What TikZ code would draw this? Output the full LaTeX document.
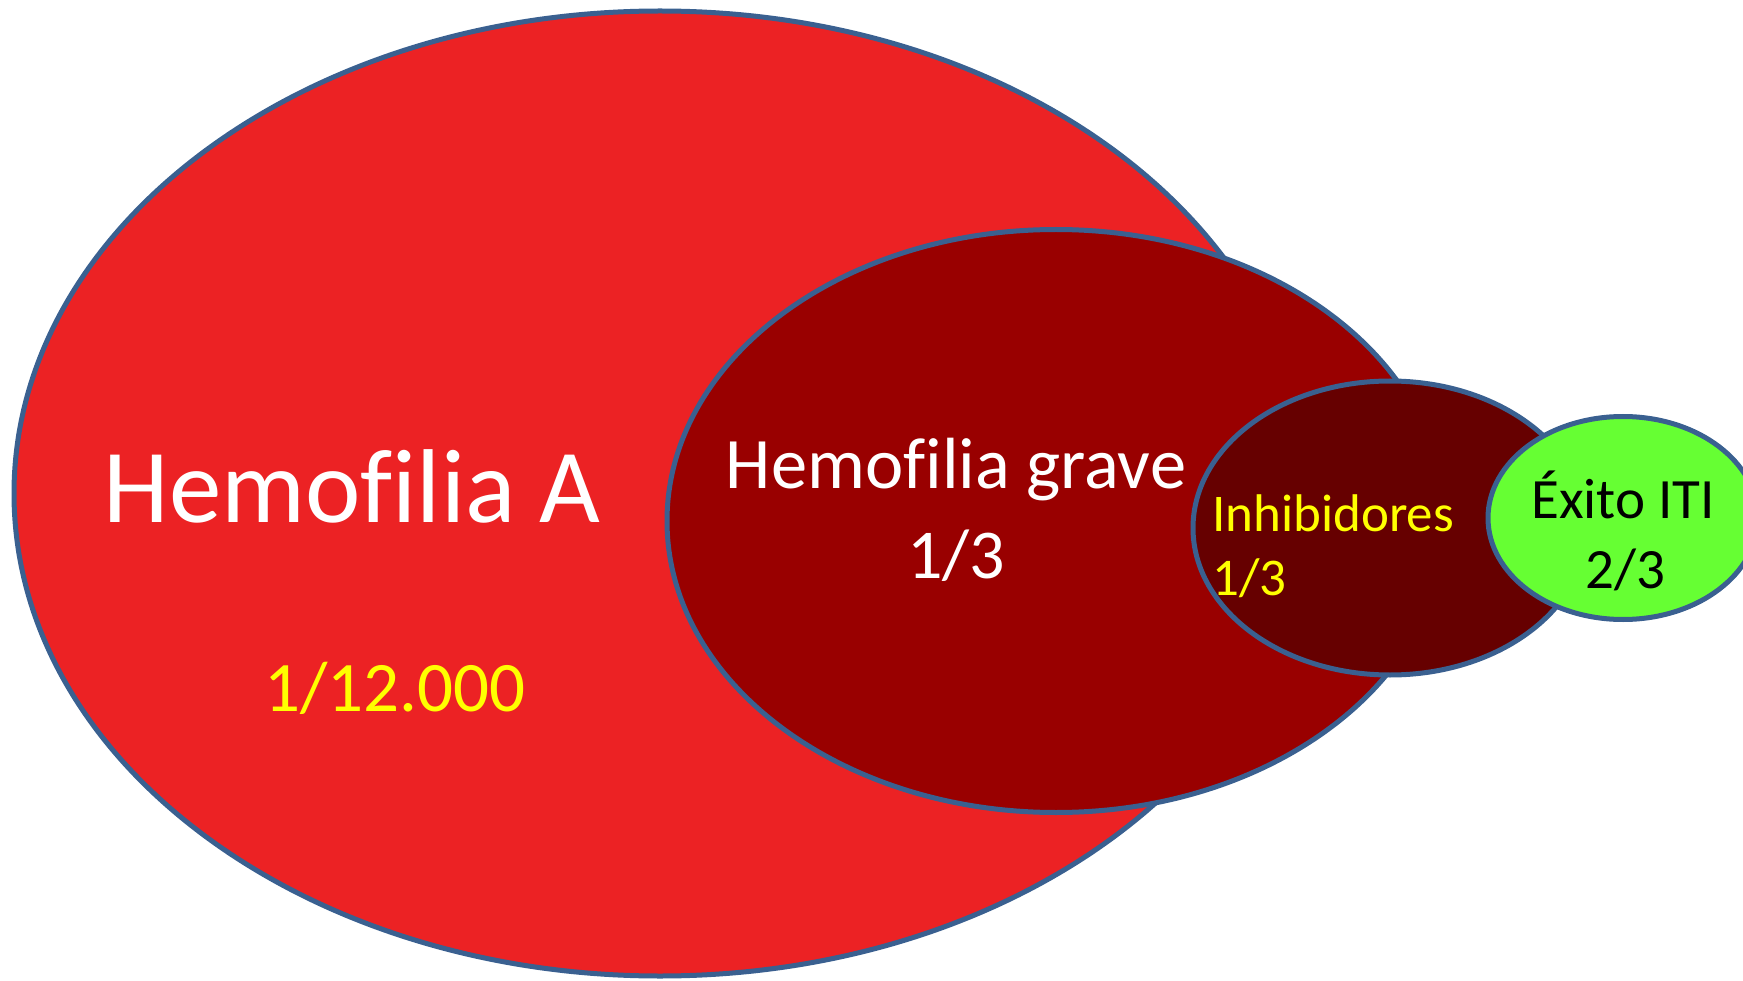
\documentclass[tikz,border=0pt]{standalone}
\usepackage{fontspec}
\setmainfont{Carlito}[Ligatures=NoCommon]
\usetikzlibrary{shapes.geometric}
\definecolor{bigred}{HTML}{EC2224}
\definecolor{darkred}{HTML}{990000}
\definecolor{darkerred}{HTML}{660000}
\definecolor{okgreen}{HTML}{66FF33}
\definecolor{rim}{HTML}{3A6090}
\definecolor{txtyellow}{HTML}{FFFF00}
\tikzset{
  blob/.style={ellipse, draw=rim, line width=5pt, inner sep=0pt},
  lbl/.style={inner sep=0pt, anchor=base},
}
\newcommand{\fs}[1]{\fontsize{#1}{#1}\selectfont}
\begin{document}
\begin{tikzpicture}[x=1pt,y=-1pt]
\useasboundingbox (0,0) rectangle (1743,981);
\clip (0,0) rectangle (1743,981);
\node[blob, fill=bigred, minimum width=1292pt, minimum height=965pt] (big) at (660,493.5) {};
\node[blob, fill=darkred, minimum width=778pt, minimum height=583pt] (grave) at (1056,521) {};
\node[blob, fill=darkerred, minimum width=394pt, minimum height=294pt] (inh) at (1390,528) {};
\node[blob, fill=okgreen, minimum width=270pt, minimum height=203pt] (iti) at (1623,518) {};
\node[lbl, text=white] (tA) at (352,522) {\fs{105}Hemof\kern0pt ilia A};
\node[lbl, text=txtyellow] (tA2) at (395,711) {\fs{71}1/12.000};
\node[lbl, text=white] (tG) at (956,488) {\fs{72.5}Hemof\kern0pt ilia grave};
\node[lbl, text=white] (tG2) at (956,578) {\fs{70}1/3};
\node[lbl, text=txtyellow, anchor=base west] (tI) at (1212,531) {\fs{53}Inhibidores};
\node[lbl, text=txtyellow, anchor=base west] (tI2) at (1212,595) {\fs{53}1/3};
\node[lbl, text=black] (tE) at (1623,518) {\fs{57}Éxito ITI};
\node[lbl, text=black] (tE2) at (1625,588) {\fs{57}2/3};
\end{tikzpicture}
\end{document}
